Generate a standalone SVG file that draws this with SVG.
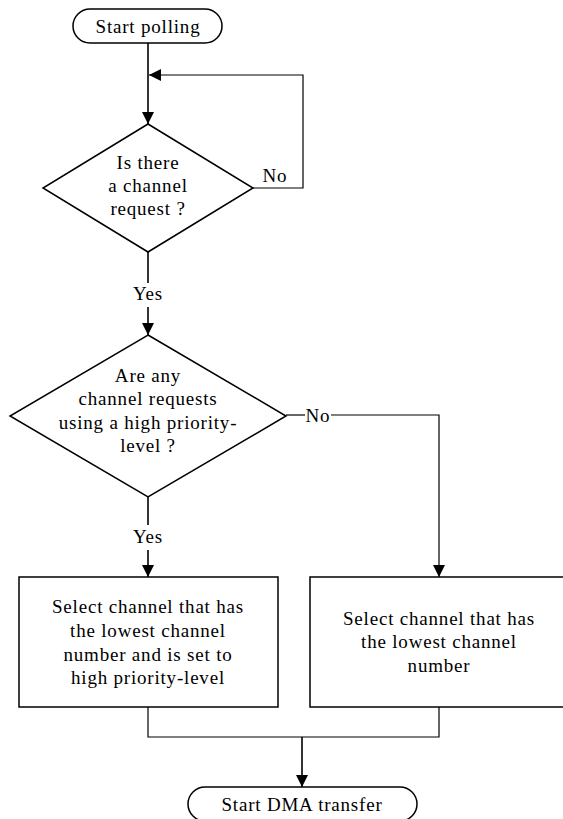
<svg xmlns="http://www.w3.org/2000/svg" width="563" height="819" viewBox="0 0 563 819">
<style>
  .shape { fill: #ffffff; stroke: #000000; stroke-width: 1.5; }
  .conn { fill: none; stroke: #000000; stroke-width: 1.6; }
  .thin { fill: none; stroke: #000000; stroke-width: 1.2; }
  .t { font-family: 'Liberation Serif', 'Times New Roman', serif; font-size: 19px; fill: #000000; letter-spacing: 0.8px; text-anchor: middle; }
</style>
<defs>
  <marker id="arrow" markerWidth="12" markerHeight="12" viewBox="0 0 12 12" refX="12" refY="6" orient="auto" markerUnits="userSpaceOnUse">
    <path d="M0,0 L12,6 L0,12 Z" fill="#000000"/>
  </marker>
</defs>
<rect width="563" height="819" fill="#ffffff"/>
<g id="connectors">
  <path class="conn" d="M148,43 L148,124" marker-end="url(#arrow)"/>
  <path class="thin" d="M253,188 L303,188 L303,75 L149,75" marker-end="url(#arrow)"/>
  <path class="conn" d="M148,252 L148,283"/>
  <path class="conn" d="M148,307 L148,335" marker-end="url(#arrow)"/>
  <path class="thin" d="M286,415 L305,415"/>
  <path class="thin" d="M331,415 L439,415 L439,577" marker-end="url(#arrow)"/>
  <path class="conn" d="M148,497 L148,525"/>
  <path class="conn" d="M148,550 L148,577" marker-end="url(#arrow)"/>
  <path class="thin" d="M148,707 L148,737 L439,737 L439,707"/>
  <path class="conn" d="M302,737 L302,787" marker-end="url(#arrow)"/>
  <text class="t" x="275" y="182">No</text>
  <text class="t" x="148" y="300">Yes</text>
  <text class="t" x="318" y="422">No</text>
  <text class="t" x="148" y="543">Yes</text>
</g>
<g id="start-polling">
  <rect class="shape" x="73" y="9" width="149" height="34" rx="17" ry="17"/>
  <text class="t" x="148" y="33">Start polling</text>
</g>
<g id="decision-request">
  <polygon class="shape" points="148,124 253,188 148,252 43,188"/>
  <text class="t" x="148" y="169">Is there</text>
  <text class="t" x="148" y="192">a channel</text>
  <text class="t" x="148" y="215">request ?</text>
</g>
<g id="decision-priority">
  <polygon class="shape" points="148,335 286,416 148,497 10,416"/>
  <text class="t" x="148" y="382">Are any</text>
  <text class="t" x="148" y="405">channel requests</text>
  <text class="t" x="148" y="429">using a high priority-</text>
  <text class="t" x="148" y="452">level ?</text>
</g>
<g id="select-high">
  <rect class="shape" x="19" y="577" width="259" height="130"/>
  <text class="t" x="148" y="613">Select channel that has</text>
  <text class="t" x="148" y="637">the lowest channel</text>
  <text class="t" x="148" y="661">number and is set to</text>
  <text class="t" x="148" y="684">high priority-level</text>
</g>
<g id="select-lowest">
  <rect class="shape" x="310" y="577" width="259" height="130"/>
  <text class="t" x="439" y="625">Select channel that has</text>
  <text class="t" x="439" y="648">the lowest channel</text>
  <text class="t" x="439" y="672">number</text>
</g>
<g id="start-dma">
  <rect class="shape" x="188" y="787" width="229" height="34" rx="17" ry="17"/>
  <text class="t" x="302" y="811">Start DMA transfer</text>
</g>
</svg>
